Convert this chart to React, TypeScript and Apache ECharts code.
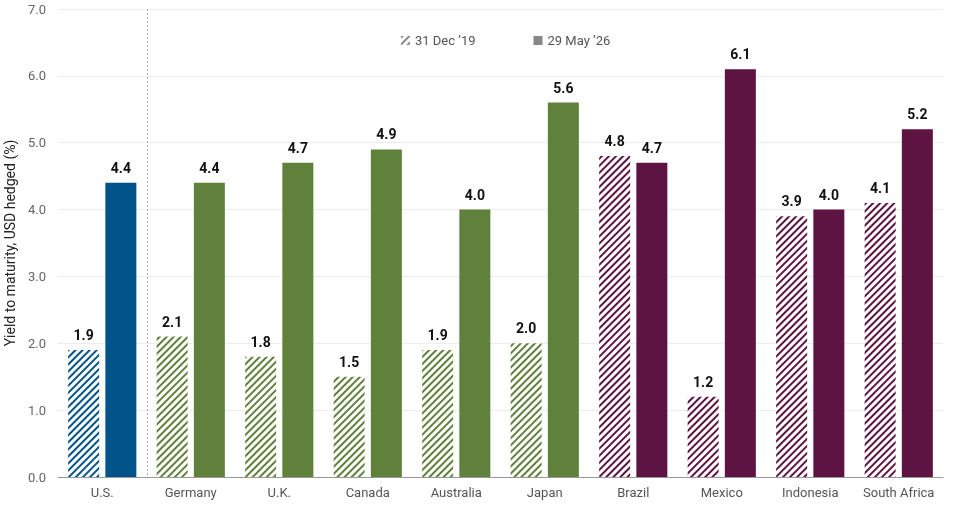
import React, { useEffect, useRef } from "react";
import * as echarts from "echarts";

const categories = ["U.S.", "Germany", "U.K.", "Canada", "Australia", "Japan", "Brazil", "Mexico", "Indonesia", "South Africa"];
const dec19 = [1.9, 2.1, 1.8, 1.5, 1.9, 2.0, 4.8, 1.2, 3.9, 4.1];
const may26 = [4.4, 4.4, 4.7, 4.9, 4.0, 5.6, 4.7, 6.1, 4.0, 5.2];
const groups = ["us", "dm", "dm", "dm", "dm", "dm", "em", "em", "em", "em"];
const yTicks = { min: 0, max: 7, interval: 1 };
const seriesNames = ["31 Dec \u201919", "29 May \u201926"];

const palette: Record<string, string> = { us: "#01538A", dm: "#5F813C", em: "#5E1443" };
const FONT = "'Roboto', sans-serif";

const hatch = (c: string) => ({
  color: c,
  symbol: "rect",
  symbolSize: 1,
  dashArrayX: [1, 0],
  dashArrayY: [2, 2.4],
  rotation: -Math.PI / 4,
});

export default function App() {
  const ref = useRef<HTMLDivElement>(null);
  useEffect(() => {
    if (!ref.current) return;
    const chart = echarts.init(ref.current, undefined, { renderer: "svg" });
    const label = {
      show: true,
      position: "top",
      distance: 8,
      fontFamily: FONT,
      fontWeight: "bold",
      fontSize: 14,
      color: "#111",
      formatter: (p: any) => Number(p.value).toFixed(1),
    };
    chart.setOption({
      animation: false,
      textStyle: { fontFamily: FONT },
      grid: { left: 58, right: 10, top: 9, bottom: 30, containLabel: false, outerBoundsMode: "none" },
      legend: {
        top: 29,
        left: 396,
        itemWidth: 9,
        itemHeight: 9,
        itemGap: 58,
        icon: "rect",
        textStyle: { color: "#555", fontSize: 13, fontFamily: FONT },
        data: seriesNames,
      },
      xAxis: {
        type: "category",
        data: categories,
        axisLine: { lineStyle: { color: "#999" } },
        axisTick: { show: false },
        axisLabel: { color: "#555", fontSize: 13, fontFamily: FONT, margin: 9, interval: 0 },
      },
      yAxis: {
        type: "value",
        ...yTicks,
        name: "Yield to maturity, USD hedged (%)",
        nameLocation: "middle",
        nameGap: 41,
        nameTextStyle: { color: "#222", fontSize: 14, fontFamily: FONT },
        axisLabel: { color: "#666", fontSize: 13, fontFamily: FONT, margin: 12, formatter: (v: number) => v.toFixed(1) },
        axisLine: { show: false },
        axisTick: { show: false },
        splitLine: { lineStyle: { color: "#ececec" } },
      },
      series: [
        {
          name: seriesNames[0],
          type: "bar",
          barWidth: 31,
          barGap: "20%",
          itemStyle: { color: "#fff", decal: hatch("#888") },
          label,
          data: dec19.map((v, i) => ({
            value: v,
            itemStyle: { color: "#fff", decal: hatch(palette[groups[i]]) },
          })),
        },
        {
          name: seriesNames[1],
          type: "bar",
          barWidth: 31,
          barGap: "20%",
          itemStyle: { color: "#888" },
          label,
          data: may26.map((v, i) => ({
            value: v,
            itemStyle: { color: palette[groups[i]] },
          })),
        },
      ],
    });
    const x0 = chart.convertToPixel({ xAxisIndex: 0 }, 0) as number;
    const x1 = chart.convertToPixel({ xAxisIndex: 0 }, 1) as number;
    const yTop = chart.convertToPixel({ yAxisIndex: 0 }, yTicks.max) as number;
    const yBot = chart.convertToPixel({ yAxisIndex: 0 }, yTicks.min) as number;
    const xd = Math.round((x0 + x1) / 2) + 0.5;
    chart.setOption({
      graphic: [
        {
          type: "line",
          shape: { x1: xd, y1: yTop, x2: xd, y2: yBot },
          style: { stroke: "#aaa", lineWidth: 1, lineDash: [2, 2] },
          z: 10,
        },
      ],
    });
    return () => chart.dispose();
  }, []);
  return <div ref={ref} style={{ position: "fixed", left: 0, top: 0, width: 953, height: 507 }} />;
}
